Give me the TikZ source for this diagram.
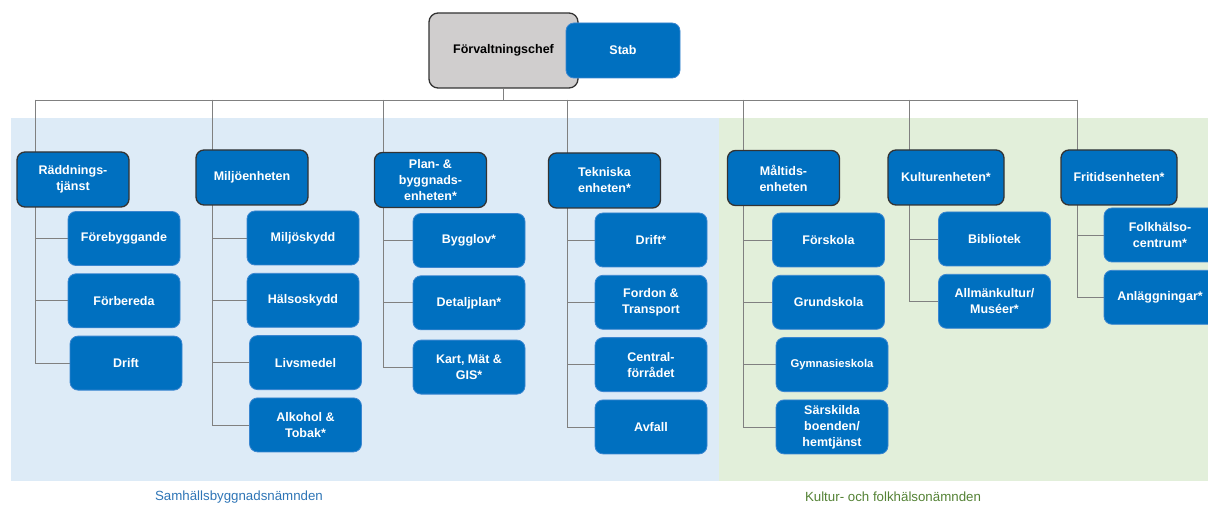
\documentclass[tikz,border=0pt]{standalone}
\usepackage{fontspec}
\setmainfont{Liberation Sans}
\usetikzlibrary{positioning, backgrounds}

\definecolor{boxblue}{HTML}{0070C0}
\definecolor{boxedge}{HTML}{3A86D0}
\definecolor{bgblue}{HTML}{DDEBF7}
\definecolor{bggreen}{HTML}{E2EFDA}
\definecolor{chefgray}{HTML}{D0CECE}
\definecolor{linegray}{HTML}{808080}
\definecolor{textblue}{HTML}{2E75B6}
\definecolor{textgreen}{HTML}{548235}

\begin{document}
\begin{tikzpicture}[x=1pt, y=-1pt, node distance=7.5pt,
        unit/.style={draw=black!80, line width=1.3pt, fill=boxblue, rounded corners=8pt, minimum width=112pt, minimum height=55pt, inner sep=0pt, align=center, text=white, font=\bfseries\fontsize{12.5}{16}\selectfont},
        sub/.style={draw=boxedge, line width=0.8pt, fill=boxblue, rounded corners=8pt, minimum width=112pt, minimum height=54pt, inner sep=0pt, align=center, text=white, font=\bfseries\fontsize{12.5}{16}\selectfont},
        chefbox/.style={draw=black!80, line width=1.3pt, fill=chefgray, rounded corners=9pt, minimum width=149pt, minimum height=75pt, inner sep=0pt, text=black, font=\bfseries\fontsize{12.5}{16}\selectfont},
        link/.style={draw=linegray, line width=0.8pt},
        board/.style={font=\fontsize{13.3}{16}\selectfont}]
        \useasboundingbox (0,0) rectangle (1208,505);

        \node[chefbox] (chef) at (503.5,50.5) {Förvaltningschef};
        \node[sub, minimum width=114pt, minimum height=55pt] (stab) at (623,50.5) {Stab};

        \node[unit] (radd) at (73,179.5) {Räddnings-\\tjänst};
        \node[unit] (miljo) at (252,177.5) {Miljöenheten};
        \node[unit] (plan) at (430.5,180) {Plan- \&\\byggnads-\\enheten*};
        \node[unit] (tekn) at (604.5,180.5) {Tekniska\\enheten*};
        \node[unit] (maltid) at (783.5,178) {Måltids-\\enheten};
        \node[unit, minimum width=116pt] (kultur) at (946,177.5) {Kulturenheten*};
        \node[unit, minimum width=116pt] (fritid) at (1119,177.5) {Fritidsenheten*};

        \coordinate (raddbus) at (35,100);
        \coordinate (miljobus) at (212,100);
        \coordinate (planbus) at (383,100);
        \coordinate (teknbus) at (567,100);
        \coordinate (maltidbus) at (743,100);
        \coordinate (kulturbus) at (909,100);
        \coordinate (fritidbus) at (1077,100);

        \node[sub] (forebygg) at (124,238.5) {Förebyggande};
        \node[sub, below=of forebygg] (forbered) {Förbereda};
        \node[sub, below=of forbered, xshift=2pt] (radddrift) {Drift};

        \node[sub] (miljoskydd) at (303,238) {Miljöskydd};
        \node[sub, below=of miljoskydd] (halsoskydd) {Hälsoskydd};
        \node[sub, below=of halsoskydd, xshift=2.5pt] (livsmedel) {Livsmedel};
        \node[sub, below=of livsmedel] (alkohol) {Alkohol \&\\Tobak*};

        \node[sub] (bygglov) at (469,240.5) {Bygglov*};
        \node[sub, below=of bygglov] (detaljplan) {Detaljplan*};
        \node[sub, below=of detaljplan, yshift=-2pt] (kart) {Kart, Mät \&\\GIS*};

        \node[sub] (tekndrift) at (651,240) {Drift*};
        \node[sub, below=of tekndrift] (fordon) {Fordon \&\\Transport};
        \node[sub, below=of fordon] (central) {Central-\\förrådet};
        \node[sub, below=of central] (avfall) {Avfall};

        \node[sub] (forskola) at (828.5,240) {Förskola};
        \node[sub, below=of forskola] (grundskola) {Grundskola};
        \node[sub, below=of grundskola, xshift=3.5pt, font=\bfseries\fontsize{11.3}{16}\selectfont] (gymnasie) {Gymnasieskola};
        \node[sub, below=of gymnasie] (sarskilda) {Särskilda\\boenden/\\hemtjänst};

        \node[sub] (bibliotek) at (994.5,239) {Bibliotek};
        \node[sub, below=of bibliotek] (allmankultur) {Allmänkultur/\\Muséer*};

        \node[sub] (folkhalso) at (1160,235) {Folkhälso-\\centrum*};
        \node[sub, below=of folkhalso] (anlaggning) {Anläggningar*};

        \node[board, text=textblue] (sbn) at (239,497) {Samhällsbyggnadsnämnden};
        \node[board, text=textgreen] (kfn) at (893,497) {Kultur- och folkhälsonämnden};

        \begin{scope}[on background layer]
            \fill[bgblue] (11,118) rectangle (719,481);
            \fill[bggreen] (719,118) rectangle (1208,481);

            \draw[link] (raddbus) -- (fritidbus);
            \draw[link] (chef) -- (chef |- raddbus);

            \draw[link] (raddbus) |- (forebygg.west);
            \draw[link] (raddbus) |- (forbered.west);
            \draw[link] (raddbus) |- (radddrift.west);

            \draw[link] (miljobus) |- (miljoskydd.west);
            \draw[link] (miljobus) |- (halsoskydd.west);
            \draw[link] (miljobus) |- (livsmedel.west);
            \draw[link] (miljobus) |- (alkohol.west);

            \draw[link] (planbus) |- (bygglov.west);
            \draw[link] (planbus) |- (detaljplan.west);
            \draw[link] (planbus) |- (kart.west);

            \draw[link] (teknbus) |- (tekndrift.west);
            \draw[link] (teknbus) |- (fordon.west);
            \draw[link] (teknbus) |- (central.west);
            \draw[link] (teknbus) |- (avfall.west);

            \draw[link] (maltidbus) |- (forskola.west);
            \draw[link] (maltidbus) |- (grundskola.west);
            \draw[link] (maltidbus) |- (gymnasie.west);
            \draw[link] (maltidbus) |- (sarskilda.west);

            \draw[link] (kulturbus) |- (bibliotek.west);
            \draw[link] (kulturbus) |- (allmankultur.west);

            \draw[link] (fritidbus) |- (folkhalso.west);
            \draw[link] (fritidbus) |- (anlaggning.west);
        \end{scope}
    \end{tikzpicture}
\end{document}
